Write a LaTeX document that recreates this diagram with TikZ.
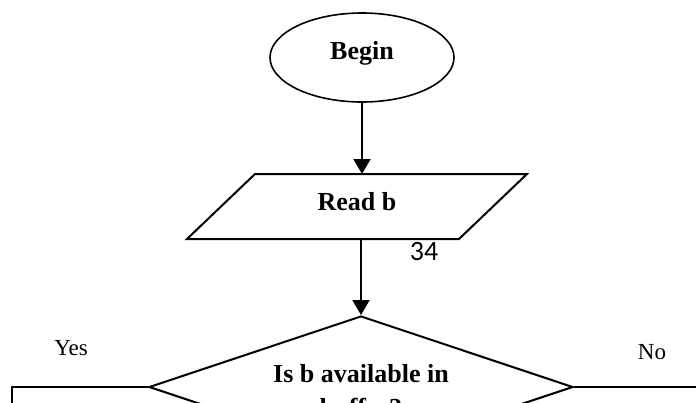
\documentclass[tikz,border=0pt]{standalone}
\usepackage{fontspec}
\setmainfont{Liberation Serif}
\newfontfamily\pagenumfont{Carlito}
\usetikzlibrary{shapes.geometric,arrows.meta}
\begin{document}
\begin{tikzpicture}[x=1pt,y=-1pt,
  line width=2pt,
  flowtext/.style={font=\fontsize{26}{34}\selectfont\bfseries},
  startstop/.style={ellipse, draw, line width=1.6pt, minimum width=184pt,
    minimum height=89pt, inner sep=0pt, text height=17.7pt, text depth=14pt, flowtext},
  iobox/.style={minimum width=270pt, minimum height=63pt, inner sep=0pt,
    text height=17.7pt, text depth=10.7pt, flowtext},
  decision/.style={diamond, draw, aspect=3, minimum width=424pt,
    minimum height=142pt, inner sep=0pt, align=center,
    text height=60pt, text depth=2pt, flowtext},
  flowarrow/.style={-{Triangle[length=15pt,width=17pt]}},
  branchlabel/.style={font=\fontsize{23}{27}\selectfont, inner sep=0pt, anchor=base}
]
\useasboundingbox (0,0) rectangle (696,402);
\clip (0,0) rectangle (696,402);

% terminal
\node[startstop] (begin) at (362,57.5) {Begin};

% input step: parallelogram drawn around the text node
\node[iobox] (read) at (357,206.5) {Read b};
\draw ([xshift=34pt]read.north west) -- ([xshift=34pt]read.north east)
   -- ([xshift=-34pt]read.south east) -- ([xshift=-34pt]read.south west) -- cycle;

% page number
\node[font=\pagenumfont\fontsize{28}{32}\selectfont, inner sep=0pt, anchor=base] (pnum) at (424,260) {34};

% decision
\node[decision] (dec) at (361,387) {Is b available in\\buffer?};

% connectors
\draw[flowarrow] (begin.south) -- (begin.south |- read.north);
\draw[flowarrow] (dec.north |- read.south) -- (dec.north);

\coordinate (yesend) at (12,430);
\coordinate (noend) at (710,387);
\draw (dec.west) -| (yesend);
\draw (dec.east) -- (noend);

% branch labels
\node[branchlabel] (yes) at (71,355) {Yes};
\node[branchlabel] (no) at (652,359) {No};
\end{tikzpicture}
\end{document}
